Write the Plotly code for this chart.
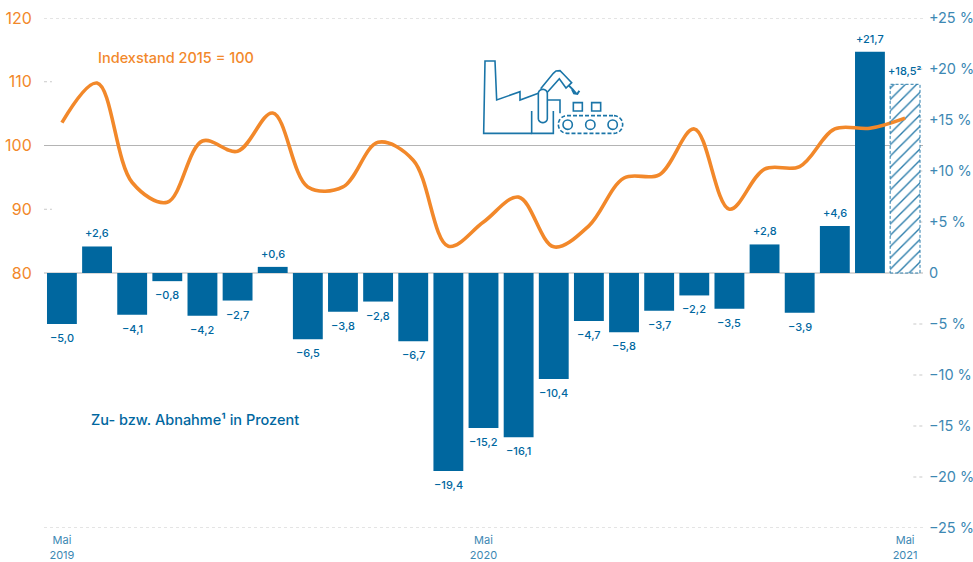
import math
import plotly.graph_objects as go

W, H = 973, 562
L, R, T, B = 44, 50, 18, 34

months = ["Mai 2019","Jun 2019","Jul 2019","Aug 2019","Sep 2019","Okt 2019","Nov 2019","Dez 2019",
          "Jan 2020","Feb 2020","Mrz 2020","Apr 2020","Mai 2020","Jun 2020","Jul 2020","Aug 2020",
          "Sep 2020","Okt 2020","Nov 2020","Dez 2020","Jan 2021","Feb 2021","Mrz 2021","Apr 2021","Mai 2021"]
change = [-5.0,2.6,-4.1,-0.8,-4.2,-2.7,0.6,-6.5,-3.8,-2.8,-6.7,-19.4,-15.2,-16.1,-10.4,-4.7,-5.8,-3.7,-2.2,-3.5,2.8,-3.9,4.6,21.7,18.5]
change_labels = ["−5,0","+2,6","−4,1","−0,8","−4,2","−2,7","+0,6","−6,5","−3,8","−2,8","−6,7","−19,4","−15,2","−16,1",
                 "−10,4","−4,7","−5,8","−3,7","−2,2","−3,5","+2,8","−3,9","+4,6","+21,7","+18,5²"]
index_vals = [103.6,109.8,94.2,91.1,100.7,99.1,105.1,93.5,93.5,100.5,97.7,84.2,88.0,91.9,84.1,87.4,94.9,95.4,102.6,90.0,96.3,96.7,102.6,102.7,104.3]

pct_ticks = [25,20,15,10,5,0,-5,-10,-15,-20,-25]
pct_labels = ["+25 %","+20 %","+15 %","+10 %","+5 %","0","−5 %","−10 %","−15 %","−20 %","−25 %"]
idx_ticks = [80,90,100,110,120]
x_ticks = ["Mai 2019","Mai 2020","Mai 2021"]
x_labels = ["Mai<br>2019","Mai<br>2020","Mai<br>2021"]

BLUE = "#00679f"
HATCH = "#2b7dab"
TICKBLUE = "#3d88b3"
ORANGE = "#f2882a"
GRID = "#c9c9c9"
FONT = "Inter"

n = len(change)
fig = go.Figure()
fig.add_trace(go.Bar(x=months[:-1], y=change[:-1], yaxis="y", width=0.85, showlegend=False,
    marker=dict(color=BLUE, line=dict(width=0))))
fig.add_trace(go.Bar(x=months[-1:], y=change[-1:], yaxis="y", width=0.85, showlegend=False,
    marker=dict(color="white", line=dict(width=0),
                pattern=dict(shape="/", fgcolor=HATCH, bgcolor="white", fgopacity=1, size=8, solidity=0.17))))
fig.add_trace(go.Scatter(x=months, y=index_vals, yaxis="y2", mode="lines", showlegend=False,
    line=dict(color=ORANGE, width=3.6, shape="spline", smoothing=1.0)))

shapes = []
def hline(yref, y, x0, x1, color=GRID, dash="3px,3px", width=1):
    shapes.append(dict(type="line", xref="paper", yref=yref, x0=x0, x1=x1, y0=y, y1=y,
                       line=dict(color=color, width=width, dash=dash), layer="below"))
hline("y", 25, 0, 1); hline("y", -25, 0, 1)
for v in (110, 90):
    hline("y2", v, 0, 0.009)
for v in (20, 15, 10, 5, -5, -10, -15, -20):
    hline("y", v, 0.989, 1)
hline("y2", 100, 0, 1, color="#b4b4b4", dash="solid", width=1.2)
hline("y", 0, 0, 1, color="#b4b4b4", dash="solid", width=1.2)
# dashed outline of the estimated last bar
shapes.append(dict(type="rect", xref="x", yref="y", x0=n-1-0.425, x1=n-1+0.425, y0=0, y1=change[-1],
                   line=dict(color=HATCH, width=1, dash="3px,2px"), layer="above"))

# factory icon (pixel coordinates of the zoomed crop -> paper)
PW, PH = W-L-R, H-T-B
def px(v): return (470+v/3-L)/PW
def py(v): return 1-(50+v/3-T)/PH
def path(points, close=False):
    s = "M"+" L".join(f"{px(a):.5f},{py(b):.5f}" for a,b in points)
    return s+(" Z" if close else "")
ICON = "#1a75a8"
def add_path(points, close=False, dash="solid", width=1.6):
    shapes.append(dict(type="path", xref="paper", yref="paper", path=path(points, close),
                       line=dict(color=ICON, width=width, dash=dash), layer="above"))
def rrect(x0,y0,x1,y1,r,steps=6,**kw):
    pts=[]
    for cx,cy,a0 in ((x1-r,y0+r,-90),(x1-r,y1-r,0),(x0+r,y1-r,90),(x0+r,y0+r,180)):
        for i in range(steps+1):
            a=math.radians(a0+90*i/steps)
            pts.append((cx+r*math.cos(a),cy+r*math.sin(a)))
    add_path(pts,close=True,**kw)
add_path([(205,130),(150,150),(150,125),(80,150),(75,33),(45,33),(41,250),(185,250)])
add_path([(185,183),(185,250),(250,250),(250,183)])
rrect(205,118,232,218,13)
add_path([(232,150),(270,150),(270,190)])
add_path([(212,116),(250,70),(258,63),(270,62),(280,72),(305,98),(288,114),(268,86),(232,127)])
add_path([(296,106),(308,118),(318,130)], width=2)
add_path([(306,118),(312,130),(322,132),(328,122)], width=2)
shapes.append(dict(type="rect", xref="paper", yref="paper", x0=px(310), x1=px(337), y0=py(183), y1=py(158), line=dict(color=ICON,width=1.6)))
shapes.append(dict(type="rect", xref="paper", yref="paper", x0=px(365), x1=px(392), y0=py(183), y1=py(158), line=dict(color=ICON,width=1.6)))
rrect(265,197,458,250,26,dash="4px,2px")
for cx in (293,361,428):
    shapes.append(dict(type="circle", xref="paper", yref="paper", x0=px(cx-14), x1=px(cx+14), y0=py(224+14), y1=py(224-14), line=dict(color=ICON,width=1.6)))

annotations = []
for m, v, t in zip(months, change, change_labels):
    annotations.append(dict(x=m, y=v, xref="x", yref="y", text=t, showarrow=False,
        yshift=13 if v>0 else -14, font=dict(family=FONT, size=11, color=BLUE, weight=500), xanchor="center", yanchor="middle"))
def label(x, y, text, color, size, weight=400):
    annotations.append(dict(x=(x-L)/PW, y=1-(y-T)/PH, xref="paper", yref="paper", text=text, showarrow=False,
        xanchor="left", yanchor="middle", xshift=-1, font=dict(family=FONT, size=size, color=color, weight=weight)))
label(97, 58, "Indexstand 2015 = 100", ORANGE, 14.5, 500)
label(90, 419, "Zu- bzw. Abnahme¹ in Prozent", BLUE, 14.5, 500)

fig.update_layout(
    width=W, height=H, margin=dict(l=L, r=R, t=T, b=B, pad=0, autoexpand=False),
    paper_bgcolor="white", plot_bgcolor="white", barmode="overlay",
    xaxis=dict(type="category", categoryorder="array", categoryarray=months, range=[-0.51,24.51],
               tickmode="array", tickvals=x_ticks, ticktext=x_labels, showgrid=False, zeroline=False,
               showline=False, ticks="outside", ticklen=2, tickcolor="rgba(0,0,0,0)", automargin=False,
               tickfont=dict(family=FONT, size=11, color=TICKBLUE)),
    yaxis=dict(range=[-25,25], side="right", tickmode="array", tickvals=pct_ticks, ticktext=pct_labels,
               showgrid=False, zeroline=False, showline=False, ticks="outside", ticklen=2, tickcolor="rgba(0,0,0,0)",
               automargin=False, tickfont=dict(family=FONT, size=14.5, color=TICKBLUE)),
    yaxis2=dict(range=[40,120], side="left", overlaying="y", tickmode="array", tickvals=idx_ticks,
               showgrid=False, zeroline=False, showline=False, ticks="outside", ticklen=8, tickcolor="rgba(0,0,0,0)",
               automargin=False, tickfont=dict(family=FONT, size=16, color=ORANGE)),
    shapes=shapes, annotations=annotations,
)
fig.write_html("out.html", config=dict(displayModeBar=False),
               post_script="document.body.style.margin='0';document.documentElement.style.margin='0';")
